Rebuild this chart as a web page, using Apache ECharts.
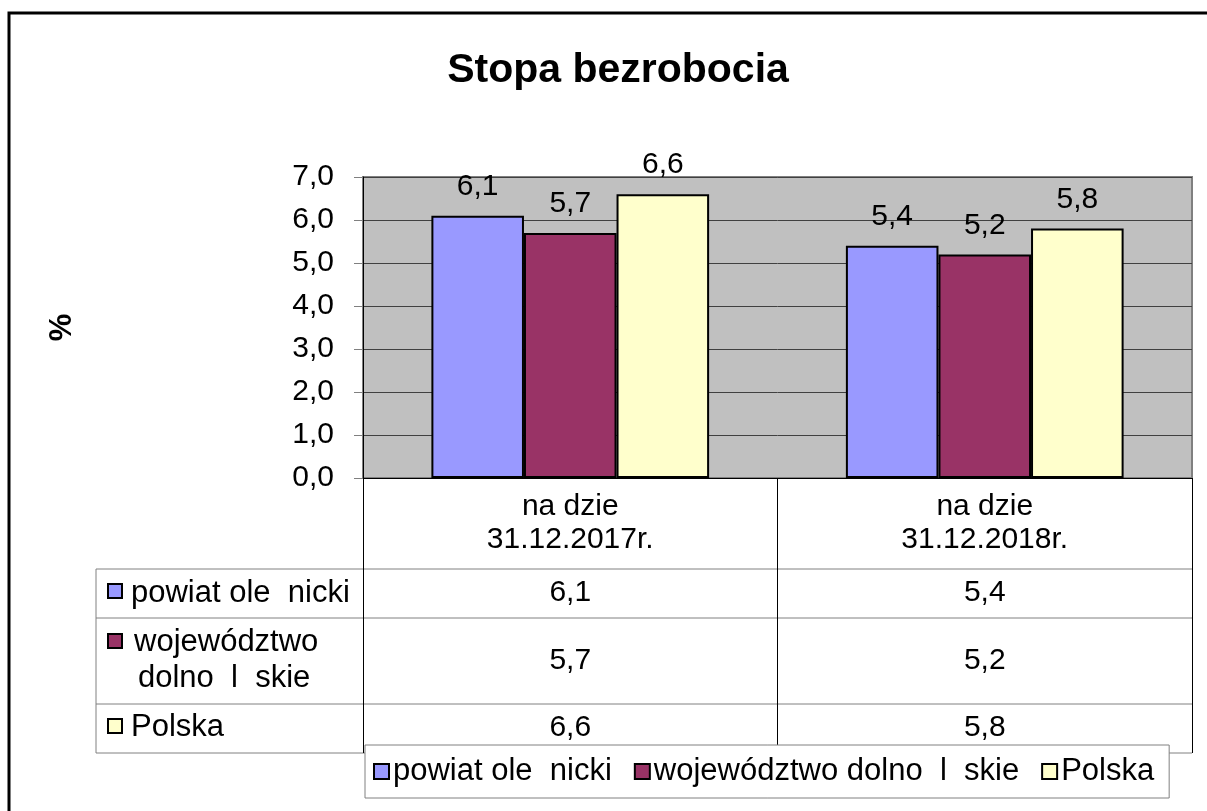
<!DOCTYPE html>
<html>
<head>
<meta charset="utf-8">
<title>Stopa bezrobocia</title>
<script src="https://cdn.jsdelivr.net/npm/echarts@6/dist/echarts.min.js"></script>
<style>
  html, body { margin: 0; padding: 0; background: #fff; }
  #main { width: 1207px; height: 811px; }
</style>
</head>
<body>
<div id="main"></div>
<script>
// dane z wykresu
var categories = ['na dzie\n31.12.2017r.', 'na dzie\n31.12.2018r.'];
var seriesNames = ['powiat ole  nicki', 'województwo dolno  l  skie', 'Polska'];
var powiat = [6.1, 5.4];
var wojewodztwo = [5.7, 5.2];
var polska = [6.6, 5.8];
var yTicks = [0, 1, 2, 3, 4, 5, 6, 7];

var FONT = 'Liberation Sans, Arial, sans-serif';
var FS = 30;
var colors = ['#9999FF', '#993366', '#FFFFCC'];

function fmt(v) {
    return Number(v).toFixed(1).replace('.', ',');
}

var chart = echarts.init(document.getElementById('main'));

// wiersze tabeli danych pod osia - osobne osie kategorii przesuniete w dol
function tableAxis(values, offset) {
    return {
        type: 'category',
        data: categories,
        position: 'bottom',
        offset: offset,
        axisLine: { show: false },
        axisTick: { show: false },
        splitLine: { show: false },
        axisLabel: {
            margin: 0,
            fontSize: FS,
            lineHeight: FS,
            fontFamily: FONT,
            color: '#000',
            formatter: function (val, idx) { return fmt(values[idx]); }
        }
    };
}

function barSeries(name, data, color) {
    return {
        name: name,
        type: 'bar',
        data: data,
        barGap: '0%',
        barCategoryGap: '33%',
        itemStyle: { color: color, borderColor: '#000', borderWidth: 2 },
        label: {
            show: true,
            position: 'top',
            distance: 14,
            fontSize: FS,
            fontFamily: FONT,
            color: '#000',
            formatter: function (p) { return fmt(p.value); }
        }
    };
}

var gridLeft = 363, gridTop = 177, gridRight = 1192, gridBottom = 478;
var tableLeft = 96;
var rowLines = [569, 618, 704, 753];

var graphics = [
    // ramka wykresu
    { type: 'rect', shape: { x: 9, y: 13, width: 1300, height: 900 },
      style: { fill: 'none', stroke: '#000', lineWidth: 3 }, z: -1 },
    // lewa krawedz tabeli
    { type: 'line', shape: { x1: tableLeft, y1: rowLines[0], x2: tableLeft, y2: rowLines[3] },
      style: { stroke: '#808080', lineWidth: 1 } }
];
rowLines.forEach(function (y) {
    graphics.push({ type: 'line', shape: { x1: tableLeft, y1: y, x2: gridRight, y2: y },
        style: { stroke: '#808080', lineWidth: 1 } });
});
// opisy wierszy tabeli
var rowLabels = [
    { icon: 584, lines: [['powiat ole  nicki', 131, 593]] },
    { icon: 634, lines: [['województwo', 134, 642], ['dolno  l  skie', 138, 678]] },
    { icon: 719, lines: [['Polska', 131, 727]] }
];
rowLabels.forEach(function (r, i) {
    graphics.push({ type: 'rect', shape: { x: 108, y: r.icon, width: 14, height: 14 },
        style: { fill: colors[i], stroke: '#000', lineWidth: 2 } });
    r.lines.forEach(function (l) {
        graphics.push({ type: 'text', x: l[1], y: l[2],
            style: { text: l[0], fontSize: 31, fontFamily: FONT, fill: '#000',
                     textVerticalAlign: 'middle', verticalAlign: 'middle' } });
    });
});

var option = {
    backgroundColor: '#fff',
    animation: false,
    title: {
        text: 'Stopa bezrobocia',
        left: 613,
        top: 45,
        textAlign: 'center',
        textStyle: { fontSize: 41, fontWeight: 'bold', fontFamily: FONT, color: '#000' }
    },
    legend: {
        data: seriesNames,
        left: 365,
        top: 745,
        orient: 'horizontal',
        backgroundColor: '#fff',
        borderColor: '#808080',
        borderWidth: 1,
        borderRadius: 0,
        padding: [11, 15, 11, 8],
        itemGap: 22,
        itemWidth: 15,
        itemHeight: 15,
        icon: 'rect',
        itemStyle: { borderColor: '#000', borderWidth: 2 },
        textStyle: { fontSize: 31, fontFamily: FONT, color: '#000', padding: [0, 0, 0, -1] },
        selectedMode: false,
        z: 10
    },
    grid: {
        left: gridLeft,
        top: gridTop,
        width: gridRight - gridLeft,
        height: gridBottom - gridTop,
        show: true,
        backgroundColor: '#C0C0C0',
        borderColor: '#808080',
        borderWidth: 2,
        containLabel: false
    },
    xAxis: [
        {
            type: 'category',
            data: categories,
            position: 'bottom',
            axisLine: { show: true, lineStyle: { color: '#000', width: 1 } },
            axisTick: { show: true, interval: 0, length: 275, lineStyle: { color: '#000', width: 1 } },
            axisLabel: {
                margin: 12,
                fontSize: FS,
                lineHeight: 33,
                fontFamily: FONT,
                color: '#000',
                interval: 0
            }
        },
        tableAxis(powiat, 100),
        tableAxis(wojewodztwo, 168),
        tableAxis(polska, 235)
    ],
    yAxis: {
        type: 'value',
        min: yTicks[0],
        max: yTicks[yTicks.length - 1],
        interval: 1,
        name: '%',
        nameLocation: 'middle',
        nameGap: 285,
        nameRotate: 90,
        nameTextStyle: { fontSize: 31, fontWeight: 'bold', fontFamily: FONT, color: '#000' },
        axisLine: { show: true, lineStyle: { color: '#000', width: 1 } },
        axisTick: { show: true, length: 9, lineStyle: { color: '#808080' } },
        axisLabel: {
            margin: 29,
            fontSize: FS,
            fontFamily: FONT,
            color: '#000',
            formatter: function (v) { return fmt(v); }
        },
        splitLine: { show: true, lineStyle: { color: '#404040', width: 1 } }
    },
    series: [
        barSeries(seriesNames[0], powiat, colors[0]),
        barSeries(seriesNames[1], wojewodztwo, colors[1]),
        barSeries(seriesNames[2], polska, colors[2])
    ],
    graphic: graphics
};

chart.setOption(option);
</script>
</body>
</html>
